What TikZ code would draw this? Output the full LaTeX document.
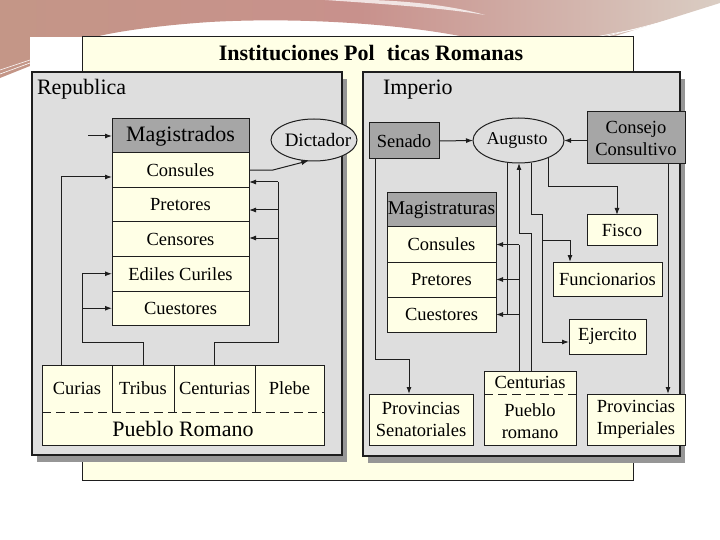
\documentclass[tikz,border=0pt]{standalone}
\usepackage{fontspec}
\setmainfont{Liberation Serif}
\usetikzlibrary{shapes.geometric,arrows.meta}
\definecolor{yel}{RGB}{255,255,230}
\definecolor{pgray}{RGB}{222,222,222}
\definecolor{hdr}{RGB}{166,166,166}
\definecolor{shad}{RGB}{150,150,150}
\definecolor{linec}{RGB}{30,30,30}
\definecolor{decoA}{RGB}{196,150,135}
\definecolor{decoB}{RGB}{200,145,140}
\definecolor{decoC}{RGB}{218,205,195}
\begin{document}
\begin{tikzpicture}[x=1pt,y=-1pt,
  every node/.style={inner sep=0pt,outer sep=0pt},
  lbl/.style={font=\fontsize{18.5}{22}\selectfont,align=center},
  ybox/.style={lbl,draw=linec,line width=1pt,fill=yel},
  dbox/.style={ybox,fill=hdr},
  oval/.style={ellipse,draw=linec,line width=1pt,fill=pgray},
  wire/.style={draw=linec,line width=1pt},
  arr/.style={wire,-{Latex[length=7pt,width=5pt]}},
  panel/.style={draw=linec,line width=1.4pt,fill=pgray},
  shadowbox/.style={fill=shad},
]
\useasboundingbox (0,0) rectangle (720,540);
\fill[white] (0,0) rectangle (720,540);
% slide decoration
\shade[left color=decoA,right color=decoC,middle color=decoB]
  (0,0) -- (720,0) -- (720,3) -- (612,37) -- (465,37)
  .. controls (400,24) and (300,17) .. (210,22)
  .. controls (150,26) and (110,33) .. (95,37) -- (30,37) -- (30,66) -- (0,78) -- cycle;
\fill[white,opacity=0.75] (325,0) .. controls (400,5) and (450,9) .. (485,15)
  .. controls (450,5) and (405,1) .. (372,0) -- cycle;
\draw[white,line width=0.6pt] (600,38) -- (720,7);
\draw[white,line width=0.6pt] (590,38) -- (720,13);
\draw[white,line width=0.6pt] (0,74) -- (30,63);
\draw[white,line width=0.6pt] (0,70) -- (30,60);
% page
\fill[white] (30,37) rectangle (690,482);
% back box and title
\node[draw=linec,line width=1pt,fill=yel,minimum width=551pt,minimum height=443pt] (back) at (357.5,258.5) {};
\node[font=\fontsize{22}{24}\selectfont\bfseries] (title) at (371,53) {Instituciones Pol\hspace{0.55em}ticas Romanas};
% panels
\fill[shadowbox] (37,79) rectangle (347,462);
\fill[shadowbox] (368,79) rectangle (685,463);
\node[panel,minimum width=310pt,minimum height=383pt] (rep) at (187,263.5) {};
\node[panel,minimum width=317pt,minimum height=384pt] (imp) at (521.5,264) {};
\node[font=\fontsize{22}{24}\selectfont,anchor=base west] (repT) at (37,95) {Republica};
\node[font=\fontsize{22}{24}\selectfont,anchor=base west] (impT) at (383,95) {Imperio};

% ---------------- Republica ----------------
\node[dbox,minimum width=137pt,minimum height=34pt,font=\fontsize{22}{24}\selectfont] (mag) at (180.5,136) {Magistrados};
\node[ybox,minimum width=137pt,minimum height=34.5pt] (cons) at (180.5,170.25) {Consules};
\node[ybox,minimum width=137pt,minimum height=34.5pt] (pret) at (180.5,204.75) {Pretores};
\node[ybox,minimum width=137pt,minimum height=34.5pt] (cens) at (180.5,239.25) {Censores};
\node[ybox,minimum width=137pt,minimum height=34.5pt] (edil) at (180.5,273.75) {Ediles Curiles};
\node[ybox,minimum width=137pt,minimum height=34.5pt] (cues) at (180.5,308.25) {Cuestores};

\node[oval,minimum width=86pt,minimum height=42pt] (dict) at (314,140) {};
\node[lbl,font=\fontsize{19}{22}\selectfont] (dictT) at (318,140) {Dictador};

\node[ybox,minimum width=282pt,minimum height=80pt] (pgroup) at (183,405) {};
\node[lbl,minimum width=70pt,minimum height=47pt] (curias) at (77,388.5) {Curias};
\node[lbl,minimum width=62pt,minimum height=47pt] (tribus) at (143,388.5) {Tribus};
\node[lbl,minimum width=81pt,minimum height=47pt] (centur) at (214.5,388.5) {Centurias};
\node[lbl,minimum width=69pt,minimum height=47pt] (plebe) at (289.5,388.5) {Plebe};
\node[lbl,minimum width=282pt,minimum height=33pt,font=\fontsize{22}{24}\selectfont] (pueblo) at (183,428.5) {Pueblo Romano};
\draw[wire] (curias.north east) -- (curias.south east);
\draw[wire] (tribus.north east) -- (tribus.south east);
\draw[wire] (centur.north east) -- (centur.south east);
\draw[wire,dash pattern=on 9pt off 5pt] (curias.south west) -- (plebe.south east);

\coordinate (min) at (88,136);
\draw[arr] (min) -- (mag.west);
\coordinate (d1) at (272,170.25);
\draw[arr] (cons.east) -- (d1) -- (dict.255);

\coordinate (r1) at (278,182);
\coordinate (r4) at (278,210);
\coordinate (r5) at (278,238);
\coordinate (r2) at (278,342);
\draw[wire] (centur.north) |- (r2) -- (r1);
\draw[arr] (r1) -- (r1 -| cons.east);
\draw[arr] (r4) -- (r4 -| pret.east);
\draw[arr] (r5) -- (r5 -| cens.east);

\coordinate (lx) at (61,0);
\coordinate (l1) at (61,177);
\draw[arr] (curias.north -| lx) -- (l1) -- (l1 -| cons.west);

\coordinate (q1) at (82,342);
\draw[wire] (tribus.north) |- (q1) -- (q1 |- edil.west);
\draw[arr] (q1 |- edil.west) -- (edil.west);
\draw[arr] (q1 |- cues.west) -- (cues.west);

% ---------------- Imperio ----------------
\node[dbox,minimum width=70pt,minimum height=36pt] (senado) at (404,141) {Senado};
\node[oval,minimum width=91pt,minimum height=45pt] (augusto) at (518.5,140.5) {};
\node[lbl,font=\fontsize{18}{22}\selectfont] (augT) at (517,140.5) {Augusto};
\node[dbox,minimum width=98pt,minimum height=52pt] (consejo) at (636,138) {Consejo\\Consultivo};

\node[dbox,minimum width=109pt,minimum height=34pt,font=\fontsize{19.5}{22}\selectfont] (magt) at (441.5,210) {Magistraturas};
\node[ybox,minimum width=109pt,minimum height=35pt] (cons2) at (441.5,244.5) {Consules};
\node[ybox,minimum width=109pt,minimum height=35pt] (pret2) at (441.5,279.5) {Pretores};
\node[ybox,minimum width=109pt,minimum height=35pt] (cues2) at (441.5,314.5) {Cuestores};

\node[ybox,minimum width=70pt,minimum height=30pt] (fisco) at (622,230) {Fisco};
\node[ybox,minimum width=109pt,minimum height=34pt] (func) at (607.5,279) {Funcionarios};
\node[ybox,minimum width=77pt,minimum height=35pt] (ejer) at (607.5,336.5) {Ejercito};

\node[ybox,minimum width=104pt,minimum height=51pt] (provsen) at (421,419.5) {Provincias\\Senatoriales};
\node[ybox,minimum width=92pt,minimum height=74pt] (cgroup) at (530,408) {};
\node[lbl,minimum width=92pt,minimum height=23pt] (cent2) at (530,382.5) {Centurias};
\node[lbl] (pueblo2) at (530,421) {Pueblo\\romano};
\draw[wire,dash pattern=on 9pt off 5pt] (cent2.south west) -- (cent2.south east);
\node[ybox,minimum width=98pt,minimum height=51pt] (provimp) at (636,419.5) {Provincias\\Imperiales};

\draw[arr] (senado.east) -- (augusto.west);
\draw[arr] (consejo.west |- augusto.east) -- (augusto.east);

\coordinate (sb) at (409,359);
\draw[arr] ([xshift=6pt]senado.south west) |- (sb) -- (sb |- provsen.north);
\draw[arr] ([xshift=-17pt]consejo.south east) -- ([xshift=-17pt]provimp.north east);

\coordinate (xa) at (519,0);
\coordinate (xb) at (507,0);
\coordinate (xc) at (531,0);
\draw[wire] (xb |- augusto.south) -- (xb |- cues2.east);
\draw[wire] (cgroup.north -| xa) -- (xa |- cons2.east);
\draw[arr] (xa |- cons2.east) -- (cons2.east);
\draw[arr] (xa |- pret2.east) -- (pret2.east);
\draw[arr] (xa |- cues2.east) -- (cues2.east);

\coordinate (jg) at (0,233);
\draw[arr] (cgroup.north -| xc) -- (xc |- jg) -- (xa |- jg) -- (xa |- augusto.south);

\coordinate (j1) at (531,215);
\coordinate (j2) at (542,215);
\coordinate (j3) at (542,342);
\coordinate (j4) at (542,240);
\coordinate (j5) at (570,240);
\draw[arr] (xc |- augusto.south) -- (j1) -- (j2) -- (j3) -- (j3 -| ejer.west);
\draw[arr] (j4) -- (j5) -- (j5 |- func.north);

\coordinate (fb) at (617,187);
\draw[arr] (augusto.-30) |- (fb) -- (fb |- fisco.north);
\end{tikzpicture}
\end{document}
